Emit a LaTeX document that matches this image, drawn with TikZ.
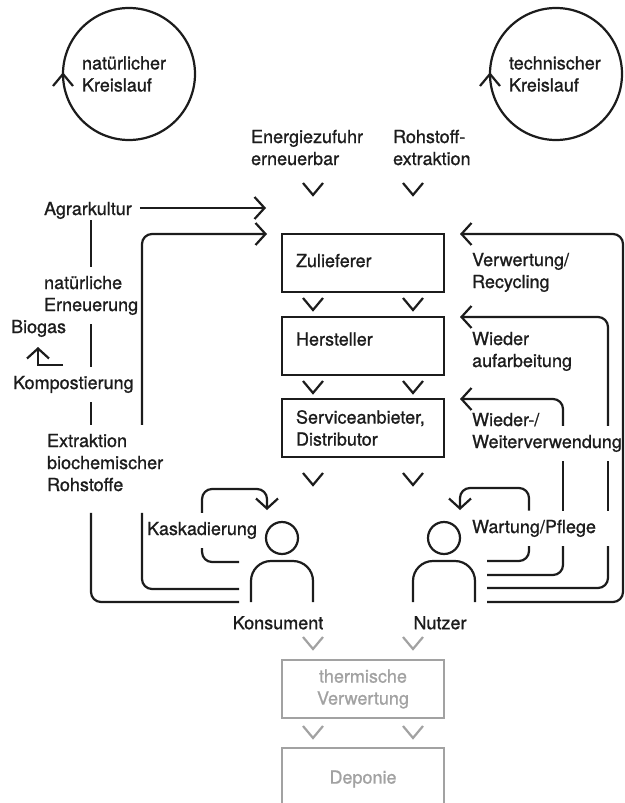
\documentclass[tikz,border=0pt]{standalone}
\usepackage{fontspec}
\setmainfont{TeX Gyre Heros}[FakeBold=1.0]
\usetikzlibrary{arrows.meta,positioning}
\definecolor{tinte}{HTML}{1C1C1C}
\definecolor{grau}{HTML}{A2A2A2}

\begin{document}
\begin{tikzpicture}[x=1pt,y=1pt,line width=2.2pt,color=tinte,
        font=\fontsize{18}{22}\selectfont,
        lbl/.style={inner xsep=0pt,inner ysep=8pt,align=left,anchor=base west},
        kreis/.style={circle,draw,minimum size=132pt,inner sep=0pt,outer sep=0pt,text width=94pt,align=left},
        box/.style={draw,anchor=north west,minimum width=162pt,minimum height=58pt,text width=134pt,
            inner xsep=14pt,inner ysep=0pt,outer sep=0pt,align=left},
        person/.style={minimum width=62pt,minimum height=80pt,inner sep=0pt,outer sep=0pt},
        arr/.style={-{Straight Barb[length=10pt,width=22pt]}},
        lane/.style={rounded corners=10pt},
        chev/.pic={\draw (-10,12) -- (0,0) -- (10,12);},
        chevup/.pic={\draw (-10,-12) -- (0,0) -- (10,-12);}]
    \useasboundingbox (0,0) rectangle (624,-803);

    % Kreislaeufe
    \node[kreis] (natkreis) at (129,-74) {natürlicher\\Kreislauf};
    \node[kreis] (techkreis) at (556,-74) {technischer\\Kreislauf};
    \pic at (natkreis.west) {chevup};
    \pic at (techkreis.west) {chevup};

    % Zufuhr
    \node[lbl] (energie) at (250,-165) {Energiezufuhr\\erneuerbar};
    \node[lbl] (rohstoff) at (392,-165) {Rohstoff-\\extraktion};

    % Kette
    \node[box,text depth=5pt] (zul) at (282,-234) {Zulieferer};
    \node[box,text depth=14pt] (her) at (282,-317) {Hersteller};
    \node[box] (serv) at (282,-399) {Serviceanbieter,\\Distributor};
    \pic at ([shift={(-50,39)}]zul.north) {chev};
    \pic at ([shift={(50,39)}]zul.north) {chev};
    \pic at ([shift={(-50,7)}]her.north) {chev};
    \pic at ([shift={(50,7)}]her.north) {chev};
    \pic at ([shift={(-50,6)}]serv.north) {chev};
    \pic at ([shift={(50,6)}]serv.north) {chev};
    \pic at ([shift={(-50,-28)}]serv.south) {chev};
    \pic at ([shift={(50,-28)}]serv.south) {chev};

    % Konsument und Nutzer
    \node[person] (konsument) at (282,-562) {};
    \node[person] (nutzer) at (444,-562) {};
    \draw (konsument.north) ++(0,-16) circle (16);
    \draw[rounded corners=20pt] (konsument.south west) -- ++(0,41) -| (konsument.south east);
    \draw (nutzer.north) ++(0,-16) circle (16);
    \draw[rounded corners=20pt] (nutzer.south west) -- ++(0,41) -| (nutzer.south east);
    \node[inner sep=0pt,below=13pt of konsument,xshift=-4pt] (konslbl) {Konsument};
    \node[inner sep=0pt,below=13pt of nutzer,xshift=-4pt] (nutzlbl) {Nutzer};

    % linke Seite
    \node[lbl,inner ysep=0pt] (agrar) at (43,-215) {Agrarkultur};
    \node[lbl] (nat) at (43,-311) {natürliche\\Erneuerung};
    \node[lbl] (biogas) at (10,-333) {Biogas};
    \node[lbl] (kompost) at (12,-389) {Kompostierung};
    \node[lbl] (extrakt) at (46,-491) {Extraktion\\biochemischer\\Rohstoffe};
    \node[lbl] (kaskade) at (146,-535) {Kaskadierung};

    % rechte Seite
    \node[lbl] (recycling) at (471,-288) {Verwertung/\\Recycling};
    \node[lbl] (aufarb) at (471,-367) {Wieder\\aufarbeitung};
    \node[lbl] (weiter) at (471,-448) {Wieder-/\\Weiterverwendung};
    \node[lbl] (wartung) at (471,-533) {Wartung/Pflege};

    % Entsorgung
    \node[box,draw=grau,text=grau,align=center] (therm) at (282,-660) {thermische\\Verwertung};
    \node[box,draw=none,text=grau,align=center,minimum height=62pt] (depo) at (282,-748) {Deponie};
    \draw[grau] (depo.south west) |- (depo.north) -| (depo.south east);
    \pic[grau] at ([shift={(-50,11)}]therm.north) {chev};
    \pic[grau] at ([shift={(50,11)}]therm.north) {chev};
    \pic[grau] at ([shift={(-50,10)}]depo.north) {chev};
    \pic[grau] at ([shift={(50,10)}]depo.north) {chev};

    % Spuren
    \coordinate (l1) at (91,0);
    \coordinate (l2) at (142,0);
    \coordinate (rk) at (529,0);
    \coordinate (r2) at (563,0);
    \coordinate (r3) at (608,0);
    \coordinate (r4) at (623,0);
    \coordinate (agrarin) at ([shift={(-16,26)}]zul.north west);
    \coordinate (bioin) at ([xshift=-15pt]zul.north west);
    \coordinate (recin) at ([xshift=16pt]zul.north east);
    \coordinate (aufin) at ([xshift=16pt]her.north east);
    \coordinate (weitin) at ([xshift=16pt]serv.north east);
    \coordinate (kaskin) at ([shift={(-15,12)}]konsument.north);
    \coordinate (wartin) at ([shift={(16,12)}]nutzer.north);
    \coordinate (weitmid) at ([yshift=-22pt]weiter.north);

    % natuerlicher Kreislauf
    \draw[arr,shorten <=7pt] (agrar.east |- agrarin) -- (agrarin);
    \draw (agrar.south -| l1) -- (nat.north -| l1)
        (nat.south -| l1) -- (kompost.north -| l1)
        (kompost.south -| l1) -- (extrakt.north -| l1);
    \draw[lane] (kaskade.north -| l1) |- ([xshift=-12pt]konsument.south west);
    \draw[lane,arr] (extrakt.north -| l2) |- (bioin);
    \draw[lane] (kaskade.north -| l2) |- ([shift={(-12,13)}]konsument.south west);
    \draw[lane,arr] (kaskade.north) |- ([yshift=21pt]kaskin) -- (kaskin);
    \draw[lane] (kaskade.south) |- ([shift={(-12,40)}]konsument.south west);
    \draw[arr] ([shift={(53,-32)}]biogas.base west) -| ([shift={(28,-14)}]biogas.base west);

    % technischer Kreislauf
    \draw[lane,arr] ([xshift=12pt]nutzer.south east) -| (r4 |- recin) -- (recin);
    \draw[lane,arr] (weitmid -| r3) |- (aufin);
    \draw (weiter.south -| r3) -- (wartung.north -| r3);
    \draw[lane] (wartung.south -| r3) |- ([shift={(12,14)}]nutzer.south east);
    \draw[lane,arr] (weitmid -| r2) |- (weitin);
    \draw (weiter.south -| r2) -- (wartung.north -| r2);
    \draw[lane] (wartung.south -| r2) |- ([shift={(12,27)}]nutzer.south east);
    \draw[lane,arr] (wartung.north -| rk) |- ([yshift=22pt]wartin) -- (wartin);
    \draw[lane] (wartung.south -| rk) |- ([shift={(12,41)}]nutzer.south east);
\end{tikzpicture}
\end{document}
